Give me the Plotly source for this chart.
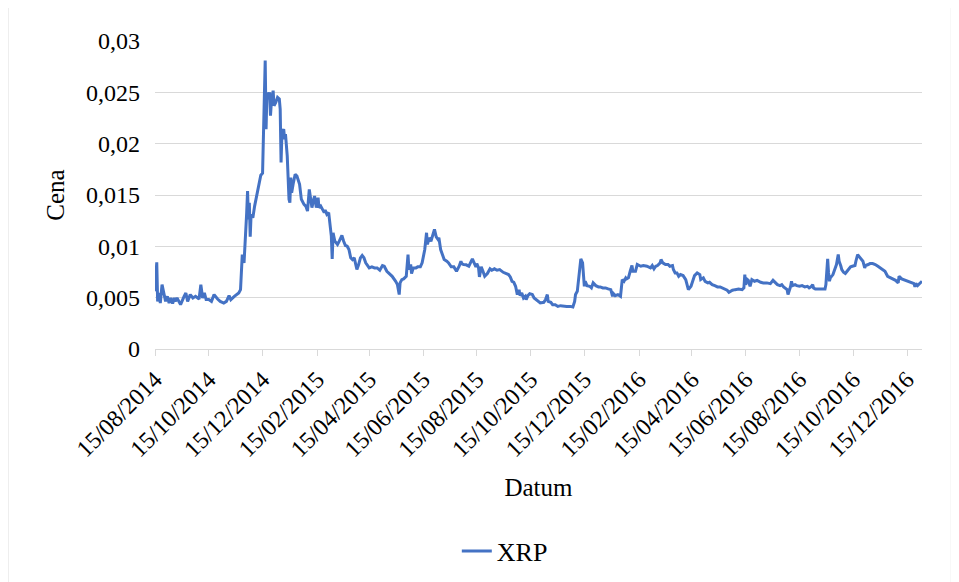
import pandas as pd
import plotly.graph_objects as go

# XRP price (USD)
start_date = "2014-08-15"
days_since_start = [
    0, 2, 3, 5, 6, 8, 10, 12, 14, 16,
    18, 20, 22, 23, 25, 29, 33, 35, 37, 40,
    43, 46, 50, 52, 54, 56, 58, 61, 64, 67,
    71, 74, 78, 81, 84, 86, 90, 93, 95, 97,
    98, 99, 101, 102, 104, 105, 106, 107, 108, 109,
    111, 113, 115, 118, 120, 122, 123, 124, 125, 126,
    127, 128, 130, 131, 132, 134, 135, 137, 139, 141,
    142, 143, 144, 146, 147, 148, 150, 152, 153, 154,
    155, 157, 159, 161, 164, 166, 169, 171, 173, 175,
    177, 178, 180, 181, 183, 185, 186, 188, 190, 192,
    193, 195, 197, 198, 200, 201, 202, 204, 207, 209,
    210, 212, 214, 216, 218, 220, 222, 224, 226, 227,
    229, 231, 233, 235, 237, 239, 243, 246, 249, 252,
    255, 258, 260, 263, 265, 269, 273, 275, 277, 278,
    280, 282, 285, 287, 288, 290, 291, 293, 296, 298,
    301, 303, 306, 308, 309, 311, 313, 316, 317, 319,
    321, 322, 324, 326, 328, 331, 333, 336, 339, 342,
    345, 347, 348, 350, 353, 356, 359, 360, 362, 364,
    365, 367, 368, 370, 372, 374, 377, 380, 382, 385,
    388, 391, 395, 398, 401, 403, 405, 407, 409, 411,
    413, 414, 416, 418, 420, 421, 423, 425, 428, 430,
    432, 435, 437, 441, 443, 445, 446, 449, 451, 454,
    457, 460, 464, 467, 471, 474, 476, 477, 479, 481,
    482, 483, 485, 486, 487, 488, 490, 493, 495, 497,
    500, 503, 505, 508, 511, 514, 517, 519, 520, 522,
    525, 528, 530, 532, 534, 535, 537, 539, 541, 542,
    545, 547, 549, 551, 554, 558, 562, 564, 566, 568,
    570, 573, 574, 576, 579, 582, 584, 587, 588, 590,
    592, 594, 596, 599, 602, 604, 605, 608, 610, 612,
    615, 618, 619, 622, 624, 627, 629, 632, 635, 638,
    641, 643, 646, 649, 651, 655, 658, 662, 666, 668,
    669, 670, 672, 673, 675, 677, 680, 683, 687, 690,
    694, 698, 701, 704, 706, 709, 711, 713, 715, 717,
    718, 720, 721, 722, 723, 726, 728, 731, 734, 737,
    740, 742, 744, 746, 747, 749, 753, 757, 760, 761,
    763, 764, 765, 766, 769, 771, 773, 775, 776, 778,
    779, 781, 783, 785, 787, 789, 791, 794, 795, 797,
    799, 801, 803, 805, 806, 809, 811, 814, 817, 820,
    823, 825, 828, 831, 834, 837, 840, 843, 844, 847,
    849, 852, 855, 858, 861, 862, 863, 865, 867, 869,
    870,
]
xrp_price = [
    0.00562, 0.00845, 0.00464, 0.00546, 0.00448, 0.00627, 0.00546, 0.00464, 0.00513, 0.00448,
    0.00497, 0.00442, 0.00497, 0.00464, 0.00497, 0.00432, 0.00513, 0.00546, 0.00464, 0.0053,
    0.00497, 0.00513, 0.00487, 0.00627, 0.00497, 0.00546, 0.00481, 0.00481, 0.00464, 0.0053,
    0.00487, 0.00464, 0.00448, 0.00464, 0.0052, 0.00481, 0.00513, 0.0053, 0.00546, 0.00578,
    0.00708, 0.0092, 0.00839, 0.00969, 0.01328, 0.01539, 0.01262, 0.01425, 0.01093, 0.01311,
    0.01279, 0.01392, 0.0149, 0.01621, 0.01692, 0.01712, 0.02109, 0.0255, 0.0281, 0.02142,
    0.025, 0.02435, 0.025, 0.02272, 0.02402, 0.02516, 0.02369, 0.02402, 0.02451, 0.02435,
    0.02337, 0.01816, 0.02109, 0.02142, 0.02044, 0.02093, 0.01881, 0.01458, 0.01425, 0.0167,
    0.01523, 0.01621, 0.01702, 0.01685, 0.01604, 0.01458, 0.01409, 0.01392, 0.01343, 0.01555,
    0.01458, 0.01377, 0.01458, 0.0149, 0.01377, 0.01474, 0.01377, 0.01392, 0.0136, 0.01328,
    0.01353, 0.01311, 0.01328, 0.0123, 0.01099, 0.00878, 0.01132, 0.0105, 0.01018, 0.0105,
    0.01067, 0.01106, 0.0105, 0.01008, 0.01001, 0.00969, 0.00888, 0.00871, 0.00888, 0.00839,
    0.00774, 0.00823, 0.00888, 0.00911, 0.00888, 0.00839, 0.0079, 0.008, 0.0079, 0.0079,
    0.00767, 0.00813, 0.00806, 0.00757, 0.00741, 0.00708, 0.00659, 0.00627, 0.0053, 0.00644,
    0.00676, 0.00683, 0.00708, 0.0092, 0.00774, 0.00823, 0.00735, 0.0079, 0.0079, 0.008,
    0.008, 0.00839, 0.00969, 0.01132, 0.01018, 0.01083, 0.0105, 0.01132, 0.01165, 0.01093,
    0.01067, 0.01083, 0.00969, 0.0092, 0.00871, 0.00855, 0.00839, 0.008, 0.008, 0.00757,
    0.00806, 0.00855, 0.00832, 0.00823, 0.0082, 0.00806, 0.00855, 0.00878, 0.00839, 0.008,
    0.00832, 0.0079, 0.00702, 0.008, 0.00757, 0.00708, 0.00735, 0.00781, 0.00767, 0.00781,
    0.00767, 0.00774, 0.00747, 0.00735, 0.00725, 0.00702, 0.00659, 0.0065, 0.00611, 0.0053,
    0.00578, 0.0052, 0.00546, 0.00497, 0.00513, 0.00481, 0.0052, 0.00539, 0.0053, 0.00497,
    0.00481, 0.00464, 0.00448, 0.00455, 0.00481, 0.0053, 0.00464, 0.00455, 0.00432, 0.00432,
    0.00415, 0.00422, 0.00415, 0.00415, 0.00415, 0.00409, 0.00464, 0.0053, 0.00562, 0.00708,
    0.00839, 0.00878, 0.00839, 0.00741, 0.00611, 0.0066, 0.00617, 0.00611, 0.00595, 0.00644,
    0.00617, 0.00605, 0.00605, 0.00595, 0.00595, 0.00585, 0.00578, 0.00513, 0.00539, 0.0052,
    0.0053, 0.00513, 0.00676, 0.0066, 0.00693, 0.00683, 0.00693, 0.00757, 0.00813, 0.00757,
    0.00757, 0.00823, 0.00813, 0.00806, 0.00813, 0.00806, 0.0079, 0.00813, 0.00781, 0.00806,
    0.00813, 0.00839, 0.00871, 0.00839, 0.00823, 0.00823, 0.00806, 0.00813, 0.00774, 0.00741,
    0.00741, 0.00708, 0.00725, 0.00715, 0.00676, 0.00595, 0.00578, 0.00611, 0.00676, 0.00715,
    0.00741, 0.00725, 0.00676, 0.00693, 0.00659, 0.00644, 0.0065, 0.00627, 0.00617, 0.00605,
    0.00605, 0.00595, 0.00585, 0.00572, 0.00552, 0.00572, 0.00578, 0.00585, 0.00578, 0.00595,
    0.00725, 0.00627, 0.00676, 0.00669, 0.00611, 0.00676, 0.0066, 0.00669, 0.0065, 0.00644,
    0.00644, 0.00637, 0.00669, 0.00644, 0.00627, 0.00617, 0.00627, 0.00605, 0.00595, 0.00578,
    0.0053, 0.00578, 0.00611, 0.0066, 0.00617, 0.00627, 0.00617, 0.00611, 0.00617, 0.00605,
    0.00611, 0.00595, 0.00605, 0.00627, 0.00595, 0.00585, 0.00585, 0.00578, 0.00585, 0.00627,
    0.00878, 0.00741, 0.0066, 0.00693, 0.00725, 0.00774, 0.00823, 0.0092, 0.00855, 0.00806,
    0.00774, 0.00747, 0.00735, 0.00757, 0.00781, 0.008, 0.00806, 0.00813, 0.00855, 0.0092,
    0.00898, 0.00878, 0.00855, 0.0079, 0.00813, 0.00823, 0.00832, 0.00832, 0.00823, 0.00806,
    0.0079, 0.00774, 0.00757, 0.00708, 0.00693, 0.00683, 0.00669, 0.00644, 0.00708, 0.00683,
    0.00676, 0.00669, 0.0066, 0.0065, 0.00637, 0.00605, 0.00637, 0.00617, 0.00637, 0.0065,
    0.0066,
]
assert len(days_since_start) == len(xrp_price)

x_tick_dates = [
    "2014-08-15", "2014-10-15", "2014-12-15", "2015-02-15", "2015-04-15",
    "2015-06-15", "2015-08-15", "2015-10-15", "2015-12-15", "2016-02-15",
    "2016-04-15", "2016-06-15", "2016-08-15", "2016-10-15", "2016-12-15",
]
y_tick_values = [0, 0.005, 0.01, 0.015, 0.02, 0.025, 0.03]
y_tick_labels = ["0", "0,005", "0,01", "0,015", "0,02", "0,025", "0,03"]

dates = pd.Timestamp(start_date) + pd.to_timedelta(days_since_start, unit="D")

FONT = "Liberation Serif, Times New Roman, serif"
GRID = "#d9d9d9"

fig = go.Figure()
fig.add_trace(go.Scatter(
    x=dates, y=xrp_price, mode="lines", name="XRP",
    line=dict(color="#4472C4", width=3),
))

fig.update_layout(
    width=959, height=582,
    margin=dict(l=147, r=45, t=33, b=241, autoexpand=False),
    paper_bgcolor="white", plot_bgcolor="white",
    font=dict(family=FONT, size=24, color="black"),
    showlegend=True,
    legend=dict(
        orientation="h", xref="container", yref="container",
        x=0.468, xanchor="left", y=0.067, yanchor="middle",
        font=dict(size=26),
    ),
    xaxis=dict(
        type="date",
        range=["2014-08-15", "2017-01-01"],
        tickvals=x_tick_dates, tickformat="%d/%m/%Y", tickangle=-45,
        showgrid=False, showline=True, linecolor=GRID, linewidth=1,
        ticks="outside", ticklen=6, tickcolor=GRID,
        title=dict(text="Datum", font=dict(size=25), standoff=17),
        zeroline=False,
    ),
    yaxis=dict(
        range=[0, 0.03],
        tickvals=y_tick_values, ticktext=y_tick_labels,
        showgrid=True, gridcolor=GRID, gridwidth=1,
        zeroline=False, showline=False, ticks="",
        ticklabelstandoff=14,
        title=dict(text="Cena", font=dict(size=25), standoff=14),
    ),
    shapes=[dict(
        type="rect", xref="paper", yref="paper",
        x0=-0.1917, x1=1.0382, y0=-0.80, y1=1.14,
        line=dict(color=GRID, width=1), fillcolor="rgba(0,0,0,0)",
        layer="below",
    )],
)

fig.write_html("out.html")
